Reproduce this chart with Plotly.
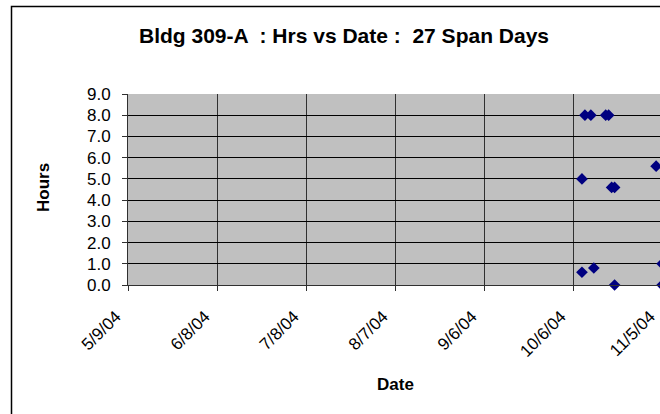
import plotly.graph_objects as go

# Data
dates = ["2004-10-09", "2004-10-09", "2004-10-10", "2004-10-12", "2004-10-13",
         "2004-10-17", "2004-10-18", "2004-10-19", "2004-10-20", "2004-10-20",
         "2004-11-03", "2004-11-05", "2004-11-05"]
hours = [5.0, 0.6, 8.0, 8.0, 0.8, 8.0, 8.0, 4.6, 4.6, 0.0, 5.6, 1.0, 0.0]

tick_dates = ["2004-05-09", "2004-06-08", "2004-07-08", "2004-08-07",
              "2004-09-06", "2004-10-06", "2004-11-05"]
tick_labels = ["5/9/04", "6/8/04", "7/8/04", "8/7/04", "9/6/04", "10/6/04", "11/5/04"]

y_ticks = [0, 1, 2, 3, 4, 5, 6, 7, 8, 9]

title_text = "Bldg 309-A  : Hrs vs Date :  27 Span Days"

# figure is a little wider than the 660px window; the right part is cut off,
# as in the reference
W, H = 700, 414
L, T, B = 128, 94, 129
PLOT_RIGHT = 668
R = W - PLOT_RIGHT
pw, ph = PLOT_RIGHT - L, H - T - B

def px_x(p):
    return (p - L) / pw

def px_y(p):
    return (H - B - p) / ph

font = "Liberation Sans, Arial, sans-serif"

fig = go.Figure()
fig.add_trace(go.Scatter(
    x=dates, y=hours, mode="markers",
    marker=dict(symbol="diamond", size=9, color="#000080",
                line=dict(width=0)),
    cliponaxis=False, showlegend=False,
))

fig.update_layout(
    width=W, height=H,
    margin=dict(l=L, r=R, t=T, b=B, pad=0),
    paper_bgcolor="white",
    plot_bgcolor="#C0C0C0",
    font=dict(family=font, size=15, color="black"),
    title=dict(text="<b>" + title_text + "</b>", x=344 / W, xref="container",
               xanchor="center", y=1 - 36 / H, yanchor="middle",
               font=dict(size=21, family=font, color="black")),
    xaxis=dict(
        type="date",
        range=["2004-05-09", "2004-11-07"],
        tickvals=tick_dates, ticktext=tick_labels,
        tickangle=-45,
        showgrid=True, gridcolor="#303030", gridwidth=1,
        showline=True, linecolor="#303030", linewidth=1,
        ticks="outside", ticklen=5, tickcolor="#303030",
        ticklabelstandoff=9,
        ticklabelshift=-12,
        zeroline=False,
        tickfont=dict(size=17, family=font),
    ),
    yaxis=dict(
        range=[0, 9],
        tickvals=y_ticks, tickformat=".1f",
        showgrid=True, gridcolor="#000000", gridwidth=1,
        showline=True, linecolor="#303030", linewidth=1,
        ticks="outside", ticklen=5, tickcolor="#303030",
        ticklabelstandoff=8,
        zeroline=False,
        tickfont=dict(size=17, family=font),
    ),
    annotations=[
        dict(text="<b>Hours</b>", xref="paper", yref="paper",
             x=px_x(43), y=px_y(188), showarrow=False, textangle=-90,
             xanchor="center", yanchor="middle",
             font=dict(size=17, family=font, color="black")),
        dict(text="<b>Date</b>", xref="paper", yref="paper",
             x=px_x(395), y=px_y(384), showarrow=False,
             xanchor="center", yanchor="middle",
             font=dict(size=17, family=font, color="black")),
    ],
    shapes=[
        dict(type="rect", xref="paper", yref="paper",
             x0=px_x(11.5), y0=px_y(430), x1=px_x(695), y1=px_y(6.5),
             line=dict(color="black", width=1.5), fillcolor="rgba(0,0,0,0)",
             layer="above"),
    ],
)

fig.write_html(
    "out.html",
    config={"displayModeBar": False},
    post_script="document.body.style.margin='0';document.body.style.overflow='hidden';"
                "document.documentElement.style.overflow='hidden';",
)
